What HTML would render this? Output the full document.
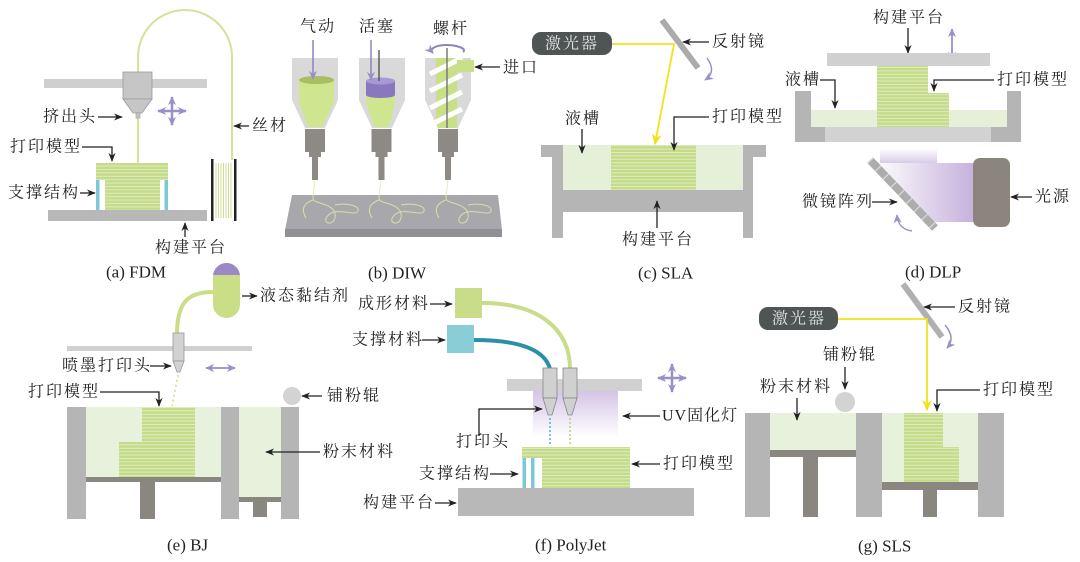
<!DOCTYPE html>
<html><head><meta charset="utf-8">
<style>
html,body{margin:0;padding:0;background:#fff;}
svg{display:block;}
.t{font-family:"Liberation Serif","Noto Serif CJK SC",serif;font-size:16px;letter-spacing:2px;fill:#222;dominant-baseline:central;}
.c{font-family:"Liberation Serif","Noto Serif CJK SC",serif;font-size:17px;fill:#222;dominant-baseline:central;}
.l{stroke:#222;stroke-width:1.3;fill:none;}
</style></head><body>
<svg width="1080" height="562" viewBox="0 0 1080 562" xmlns="http://www.w3.org/2000/svg">
<defs>
<marker id="ah" viewBox="0 0 10 10" refX="9" refY="5" markerWidth="9" markerHeight="9" orient="auto" markerUnits="userSpaceOnUse"><path d="M0,1 L10,5 L0,9 L3,5 z" fill="#222"/></marker>
<marker id="ap" viewBox="0 0 10 10" refX="9" refY="5" markerWidth="9" markerHeight="9" orient="auto" markerUnits="userSpaceOnUse"><path d="M0,0.5 L10,5 L0,9.5 L3,5 z" fill="#9a8fc8"/></marker>
<marker id="ay" viewBox="0 0 10 10" refX="9" refY="5" markerWidth="11" markerHeight="11" orient="auto" markerUnits="userSpaceOnUse"><path d="M0,0.5 L10,5 L0,9.5 L3,5 z" fill="#f2e21a"/></marker>
<pattern id="st" width="6" height="3.4" patternUnits="userSpaceOnUse"><rect width="6" height="3.4" fill="#c4db88"/><rect y="2.4" width="6" height="0.9" fill="#e3eec6"/></pattern>
<linearGradient id="uv" x1="0" y1="0" x2="0" y2="1"><stop offset="0" stop-color="#d4c4e6"/><stop offset="1" stop-color="#ffffff"/></linearGradient>
<linearGradient id="beam1" x1="0" y1="0" x2="0" y2="1"><stop offset="0" stop-color="#ffffff"/><stop offset="1" stop-color="#d9cbe8"/></linearGradient>
<linearGradient id="beam2" x1="0" y1="0" x2="1" y2="0"><stop offset="0" stop-color="#ffffff"/><stop offset="1" stop-color="#c6b2dc"/></linearGradient>
<clipPath id="s3"><polygon points="425,58 471,58 471,100 458,128 438,128 425,100"/></clipPath>
<clipPath id="cap"><rect x="213" y="263" width="27" height="55" rx="13.5"/></clipPath>
</defs>

<!-- ===== (a) FDM ===== -->
<path d="M138,72 L138,57 A47,47 0 0 1 232,57 L232,160" stroke="#d4e29a" stroke-width="2" fill="none"/>
<line x1="138" y1="116" x2="138" y2="164" stroke="#d4e29a" stroke-width="2"/>
<rect x="44" y="79" width="163" height="9" fill="#cfcfcf"/>
<rect x="123" y="72" width="29" height="27" fill="#c6c6c6" stroke="#9a9a9a" stroke-width="0.8"/>
<polygon points="123,99 152,99 142,113 133,113" fill="#c6c6c6" stroke="#9a9a9a" stroke-width="0.8"/>
<rect x="136" y="113" width="4" height="5" fill="#c6c6c6" stroke="#9a9a9a" stroke-width="0.6"/>
<g stroke="#9a8fc8" stroke-width="2.5"><line x1="162" y1="111" x2="182" y2="111"/><line x1="172" y1="101" x2="172" y2="121"/></g>
<line x1="172" y1="105" x2="172" y2="97" stroke="#9a8fc8" stroke-width="2.5" marker-end="url(#ap)"/>
<line x1="172" y1="117" x2="172" y2="125" stroke="#9a8fc8" stroke-width="2.5" marker-end="url(#ap)"/>
<line x1="166" y1="111" x2="158" y2="111" stroke="#9a8fc8" stroke-width="2.5" marker-end="url(#ap)"/>
<line x1="178" y1="111" x2="186" y2="111" stroke="#9a8fc8" stroke-width="2.5" marker-end="url(#ap)"/>
<rect x="96" y="163" width="72" height="17" fill="url(#st)"/>
<rect x="105" y="180" width="55" height="30" fill="url(#st)"/>
<rect x="96" y="180" width="3.5" height="30" fill="#7dc8d6"/>
<rect x="164.5" y="180" width="3.5" height="30" fill="#7dc8d6"/>
<rect x="48" y="210" width="159" height="11" fill="#b8b8b8"/>
<rect x="211" y="159" width="2.5" height="62" fill="#222"/>
<rect x="234" y="159" width="2.5" height="62" fill="#222"/>
<g stroke="#c9dc8a" stroke-width="0.9"><line x1="216" y1="163" x2="216" y2="218"/><line x1="218.5" y1="163" x2="218.5" y2="218"/><line x1="221" y1="163" x2="221" y2="218"/><line x1="223.5" y1="163" x2="223.5" y2="218"/><line x1="226" y1="163" x2="226" y2="218"/><line x1="228.5" y1="163" x2="228.5" y2="218"/><line x1="231" y1="163" x2="231" y2="218"/></g>
<text class="t" x="43" y="117">挤出头</text>
<line class="l" x1="98" y1="117" x2="122" y2="117" marker-end="url(#ah)"/>
<text class="t" x="10" y="147">打印模型</text>
<path class="l" d="M82,147 H112 V161" marker-end="url(#ah)"/>
<text class="t" x="8" y="193">支撑结构</text>
<line class="l" x1="80" y1="193" x2="95" y2="193" marker-end="url(#ah)"/>
<text class="t" x="252" y="126">丝材</text>
<line class="l" x1="249" y1="126" x2="234" y2="126" marker-end="url(#ah)"/>
<text class="t" x="155" y="248">构建平台</text>
<line class="l" x1="185" y1="237" x2="185" y2="223" marker-end="url(#ah)"/>
<text class="c" x="106" y="272">(a) FDM</text>

<!-- ===== (b) DIW ===== -->
<polygon points="292,195 498,195 502,230 285,230" fill="#a8a8ac"/>
<rect x="285" y="229" width="217" height="8" fill="#8f8f94"/>
<g stroke="#dfe9a6" stroke-width="1" fill="none" opacity="0.85">
<path d="M315,180 L313,197 C312,203 322,202 330,207 C338,212 336,222 330,223 C323,224 325,214 334,212 C345,210 356,216 358,211 C360,205 345,203 335,205 M313,200 C305,203 300,208 306,218"/>
<path d="M381,180 L379,197 C378,203 388,202 396,207 C404,212 402,222 396,223 C389,224 391,214 400,212 C411,210 422,216 424,211 C426,205 411,203 401,205 M379,200 C371,203 366,208 372,218"/>
<path d="M448,180 L446,197 C445,203 455,202 463,207 C471,212 469,222 463,223 C456,224 458,214 467,212 C478,210 489,216 491,211 C493,205 478,203 468,205 M446,200 C438,203 433,208 439,218"/>
</g>
<!-- syringe 1 -->
<polygon points="292,58 338,58 338,100 325,128 305,128 292,100" fill="#d9d9d9"/>
<polygon points="299,80 334,80 334,103 322,127 308,127 299,103" fill="#cfe58f"/>
<ellipse cx="316.5" cy="80" rx="17.5" ry="4" fill="#a9be62"/>
<line x1="313" y1="40" x2="313" y2="79" stroke="#8e82c0" stroke-width="1.5" marker-end="url(#ap)"/>
<!-- syringe 2 -->
<polygon points="359,58 405,58 405,100 392,128 372,128 359,100" fill="#d9d9d9"/>
<polygon points="366,92 395,92 395,103 389,127 374,127 366,103" fill="#cfe58f"/>
<rect x="366" y="81" width="29" height="14" fill="#8a78bd"/>
<ellipse cx="380.5" cy="95" rx="14.5" ry="3" fill="#8a78bd"/>
<ellipse cx="380.5" cy="81" rx="14.5" ry="3.5" fill="#a898d4"/>
<line x1="379" y1="50" x2="379" y2="81" stroke="#555" stroke-width="1.4"/>
<line x1="371" y1="40" x2="371" y2="80" stroke="#8e82c0" stroke-width="1.5" marker-end="url(#ap)"/>
<!-- syringe 3 -->
<polygon points="425,58 471,58 471,100 458,128 438,128 425,100" fill="#d9d9d9"/>
<g clip-path="url(#s3)">
<rect x="436" y="58" width="21" height="72" fill="#c9df88"/>
<g stroke="#ffffff" stroke-width="5"><line x1="430" y1="74" x2="462" y2="58"/><line x1="430" y1="91" x2="462" y2="75"/><line x1="430" y1="108" x2="462" y2="92"/><line x1="430" y1="125" x2="462" y2="109"/></g>
</g>
<rect x="457" y="60" width="17" height="12" fill="#c9df88"/>
<line x1="447" y1="48" x2="447" y2="128" stroke="#7a7a7a" stroke-width="1.5"/>
<path d="M463,52 C468,48 454,45 447,45 C438,45 428,48 433,53" stroke="#8e82c0" stroke-width="2" fill="none" marker-end="url(#ap)"/>
<!-- nozzles -->
<g fill="#8d8a85">
<rect x="305" y="129" width="20" height="23"/><rect x="309" y="152" width="12" height="5"/><rect x="312" y="157" width="6" height="23"/>
<rect x="371.5" y="129" width="20" height="23"/><rect x="375.5" y="152" width="12" height="5"/><rect x="378.5" y="157" width="6" height="23"/>
<rect x="438" y="129" width="20" height="23"/><rect x="442" y="152" width="12" height="5"/><rect x="445" y="157" width="6" height="23"/>
</g>
<text class="t" x="300" y="27">气动</text>
<text class="t" x="359" y="27">活塞</text>
<text class="t" x="433" y="29">螺杆</text>
<text class="t" x="503" y="68">进口</text>
<line class="l" x1="500" y1="67" x2="475" y2="67" marker-end="url(#ah)"/>
<text class="c" x="368" y="273">(b) DIW</text>

<!-- ===== (c) SLA ===== -->
<rect x="532" y="32" width="80" height="23" rx="9" fill="#4f5555"/>
<text class="t" x="545" y="44" style="fill:#e0e0e0">激光器</text>
<line x1="662" y1="20" x2="698" y2="68" stroke="#ababab" stroke-width="6"/>
<path d="M612,44 L674,44 L655,144" stroke="#f2e21a" stroke-width="1.8" fill="none" marker-end="url(#ay)"/>
<path d="M707,58 Q717,72 705,80" stroke="#9a8fc8" stroke-width="1.5" fill="none" marker-end="url(#ap)"/>
<text class="t" x="712" y="42">反射镜</text>
<line class="l" x1="709" y1="42" x2="683" y2="42" marker-end="url(#ah)"/>
<rect x="563" y="145" width="180" height="45" fill="#e6f0d9"/>
<rect x="611" y="145" width="85" height="45" fill="url(#st)"/>
<g fill="#b5b5b5"><rect x="541" y="145" width="22" height="12"/><rect x="552" y="145" width="11" height="93"/><rect x="743" y="145" width="23" height="12"/><rect x="743" y="145" width="10" height="93"/><rect x="552" y="190" width="201" height="22"/></g>
<text class="t" x="565" y="119">液槽</text>
<line class="l" x1="582" y1="129" x2="582" y2="153" marker-end="url(#ah)"/>
<text class="t" x="712" y="117">打印模型</text>
<path class="l" d="M709,117 H674 V150" marker-end="url(#ah)"/>
<text class="t" x="622" y="240">构建平台</text>
<line class="l" x1="657" y1="228" x2="657" y2="201" marker-end="url(#ah)"/>
<text class="c" x="638" y="273">(c) SLA</text>

<!-- ===== (d) DLP ===== -->
<text class="t" x="873" y="18">构建平台</text>
<line class="l" x1="908" y1="28" x2="908" y2="53" marker-end="url(#ah)"/>
<line x1="952" y1="36" x2="952" y2="29" stroke="#9a8fc8" stroke-width="1.8" marker-end="url(#ap)"/>
<line x1="952" y1="52" x2="952" y2="60" stroke="#9a8fc8" stroke-width="1.8" marker-end="url(#ap)"/>
<line x1="952" y1="34" x2="952" y2="54" stroke="#9a8fc8" stroke-width="1.8"/>
<rect x="827" y="53" width="163" height="13" fill="#d0d0d0"/>
<rect x="811" y="110" width="196" height="17" fill="#e6f0d9"/>
<rect x="877" y="66" width="51" height="61" fill="url(#st)"/>
<rect x="877" y="93" width="72" height="34" fill="url(#st)"/>
<rect x="795" y="91" width="16" height="51" fill="#b5b5b5"/>
<rect x="1007" y="91" width="14" height="51" fill="#b5b5b5"/>
<rect x="795" y="127" width="226" height="15" fill="#b5b5b5"/>
<rect x="825" y="127" width="166" height="15" fill="#d2d2d2"/>
<rect x="880" y="148" width="57" height="15" fill="url(#beam1)"/>
<polygon points="873,163 973,163 973,222 929,222" fill="url(#beam2)"/>
<line x1="870" y1="160" x2="935" y2="228" stroke="#adadad" stroke-width="8"/>
<line x1="870" y1="160" x2="935" y2="228" stroke="#dcdcdc" stroke-width="8" stroke-dasharray="1.2 10"/>
<rect x="973" y="158" width="37" height="69" rx="7" fill="#8c857d"/>
<path d="M912,231 Q898,229 897,215" stroke="#9a8fc8" stroke-width="1.4" fill="none" marker-end="url(#ap)"/>
<text class="t" x="785" y="80">液槽</text>
<path class="l" d="M820,80 H835 V108" marker-end="url(#ah)"/>
<text class="t" x="997" y="80">打印模型</text>
<path class="l" d="M994,80 H934 V91" marker-end="url(#ah)"/>
<text class="t" x="1035" y="197">光源</text>
<line class="l" x1="1032" y1="197" x2="1011" y2="197" marker-end="url(#ah)"/>
<text class="t" x="802" y="202">微镜阵列</text>
<line class="l" x1="872" y1="202" x2="897" y2="202" marker-end="url(#ah)"/>
<text class="c" x="905" y="272">(d) DLP</text>

<!-- ===== (e) BJ ===== -->
<path d="M213,292 C190,292 177,300 177,334" stroke="#c9de86" stroke-width="4" fill="none"/>
<g clip-path="url(#cap)"><rect x="213" y="263" width="27" height="55" fill="#c9de86"/><rect x="213" y="263" width="27" height="12" fill="#9b88c6"/></g>
<rect x="67" y="346" width="185" height="5" fill="#d0d0d0"/>
<rect x="173" y="333" width="11" height="28" fill="#d2d2d2" stroke="#999" stroke-width="0.8"/>
<polygon points="173,361 184,361 180,372 177,372" fill="#d2d2d2" stroke="#999" stroke-width="0.8"/>
<line x1="178" y1="375" x2="172" y2="406" stroke="#c9de86" stroke-width="1.6" stroke-dasharray="2 3"/>
<line x1="213" y1="368" x2="206" y2="368" stroke="#9a8fc8" stroke-width="1.8" marker-end="url(#ap)"/>
<line x1="227" y1="368" x2="235" y2="368" stroke="#9a8fc8" stroke-width="1.8" marker-end="url(#ap)"/>
<line x1="210" y1="368" x2="230" y2="368" stroke="#9a8fc8" stroke-width="1.8"/>
<rect x="86" y="407" width="135" height="70" fill="#e7f1dc"/>
<rect x="142" y="407" width="53" height="70" fill="url(#st)"/>
<rect x="119" y="442" width="76" height="35" fill="url(#st)"/>
<rect x="86" y="477" width="135" height="5" fill="#8a8680"/>
<rect x="140" y="482" width="15" height="37" fill="#8a8680"/>
<rect x="239" y="407" width="42" height="90" fill="#e7f1dc"/>
<rect x="239" y="497" width="42" height="5" fill="#8a8680"/>
<rect x="253" y="502" width="14" height="15" fill="#8a8680"/>
<g fill="#b5b5b5"><rect x="67" y="407" width="19" height="112"/><rect x="221" y="407" width="18" height="112"/><rect x="281" y="407" width="18" height="112"/></g>
<circle cx="292" cy="396" r="9" fill="#d3d3d3"/>
<text class="t" x="260" y="296">液态黏结剂</text>
<line class="l" x1="242" y1="296" x2="257" y2="296" marker-end="url(#ah)"/>
<text class="t" x="62" y="366">喷墨打印头</text>
<line class="l" x1="150" y1="366" x2="171" y2="366" marker-end="url(#ah)"/>
<text class="t" x="28" y="392">打印模型</text>
<path class="l" d="M100,392 H159 V406" marker-end="url(#ah)"/>
<text class="t" x="327" y="396">铺粉辊</text>
<line class="l" x1="322" y1="396" x2="302" y2="396" marker-end="url(#ah)"/>
<text class="t" x="323" y="452">粉末材料</text>
<line class="l" x1="320" y1="452" x2="266" y2="452" marker-end="url(#ah)"/>
<text class="c" x="167" y="545">(e) BJ</text>

<!-- ===== (f) PolyJet ===== -->
<path d="M482,303 C540,303 570,330 570,369" stroke="#c8dc8a" stroke-width="4" fill="none"/>
<path d="M474,340 C520,340 545,350 550,369" stroke="#2a8fa8" stroke-width="4" fill="none"/>
<rect x="455" y="288" width="27" height="30" fill="#c8dc8a"/>
<rect x="447" y="325" width="27" height="28" fill="#8bcdd6"/>
<rect x="507" y="379" width="135" height="12" fill="#d0d0d0"/>
<rect x="533" y="391" width="85" height="46" fill="url(#uv)"/>
<g fill="#d0d0d0" stroke="#888" stroke-width="0.8">
<rect x="543" y="368" width="14" height="30"/><polygon points="543,398 557,398 552,415 548,415"/>
<rect x="563" y="368" width="14" height="30"/><polygon points="563,398 577,398 572,415 568,415"/>
</g>
<line x1="550" y1="418" x2="550" y2="446" stroke="#5ab7cc" stroke-width="1.6" stroke-dasharray="2 2"/>
<line x1="570" y1="418" x2="570" y2="446" stroke="#bcd47a" stroke-width="1.6" stroke-dasharray="2 2"/>
<line x1="665" y1="378" x2="658" y2="378" stroke="#9a8fc8" stroke-width="2.5" marker-end="url(#ap)"/>
<line x1="679" y1="378" x2="686" y2="378" stroke="#9a8fc8" stroke-width="2.5" marker-end="url(#ap)"/>
<line x1="672" y1="371" x2="672" y2="364" stroke="#9a8fc8" stroke-width="2.5" marker-end="url(#ap)"/>
<line x1="672" y1="385" x2="672" y2="392" stroke="#9a8fc8" stroke-width="2.5" marker-end="url(#ap)"/>
<line x1="662" y1="378" x2="682" y2="378" stroke="#9a8fc8" stroke-width="2.5"/>
<line x1="672" y1="368" x2="672" y2="388" stroke="#9a8fc8" stroke-width="2.5"/>
<rect x="522" y="447" width="108" height="11" fill="url(#st)"/>
<rect x="542" y="458" width="88" height="30" fill="url(#st)"/>
<rect x="522.5" y="458" width="3.5" height="30" fill="#7dc8d6"/>
<rect x="531" y="458" width="3.5" height="30" fill="#7dc8d6"/>
<rect x="458" y="488" width="236" height="28" fill="#b8b8b8"/>
<text class="t" x="358" y="304">成形材料</text>
<line class="l" x1="430" y1="304" x2="452" y2="304" marker-end="url(#ah)"/>
<text class="t" x="352" y="340">支撑材料</text>
<line class="l" x1="422" y1="340" x2="445" y2="340" marker-end="url(#ah)"/>
<text class="t" x="662" y="416" style="letter-spacing:1px">UV固化灯</text>
<line class="l" x1="660" y1="416" x2="623" y2="416" marker-end="url(#ah)"/>
<text class="t" x="456" y="442">打印头</text>
<path class="l" d="M479,436 V409 H542" marker-end="url(#ah)"/>
<text class="t" x="419" y="474">支撑结构</text>
<line class="l" x1="490" y1="474" x2="518" y2="474" marker-end="url(#ah)"/>
<text class="t" x="663" y="464">打印模型</text>
<line class="l" x1="660" y1="464" x2="632" y2="464" marker-end="url(#ah)"/>
<text class="t" x="363" y="503">构建平台</text>
<line class="l" x1="435" y1="503" x2="456" y2="503" marker-end="url(#ah)"/>
<text class="c" x="535" y="545">(f) PolyJet</text>

<!-- ===== (g) SLS ===== -->
<rect x="759" y="307" width="79" height="23" rx="9" fill="#4f5555"/>
<text class="t" x="772" y="319" style="fill:#e0e0e0">激光器</text>
<line x1="903" y1="284" x2="942" y2="337" stroke="#b0b0b0" stroke-width="6"/>
<path d="M838,319 H927 V410" stroke="#f2e21a" stroke-width="1.8" fill="none" marker-end="url(#ay)"/>
<path d="M945,325 Q956,338 947,348" stroke="#9a8fc8" stroke-width="1.5" fill="none" marker-end="url(#ap)"/>
<text class="t" x="958" y="307">反射镜</text>
<line class="l" x1="955" y1="307" x2="924" y2="307" marker-end="url(#ah)"/>
<rect x="770" y="413" width="86" height="37" fill="#e7f1dc"/>
<rect x="770" y="450" width="86" height="7" fill="#8a8680"/>
<rect x="803" y="457" width="15" height="60" fill="#8a8680"/>
<rect x="882" y="413" width="96" height="69" fill="#e7f1dc"/>
<rect x="904" y="413" width="39" height="69" fill="url(#st)"/>
<rect x="904" y="447" width="55" height="35" fill="url(#st)"/>
<rect x="882" y="482" width="96" height="8" fill="#8a8680"/>
<rect x="923" y="490" width="14" height="27" fill="#8a8680"/>
<g fill="#b5b5b5"><rect x="745" y="413" width="25" height="104"/><rect x="856" y="413" width="26" height="104"/><rect x="978" y="413" width="26" height="104"/></g>
<circle cx="845" cy="402" r="10" fill="#d3d3d3"/>
<text class="t" x="823" y="355">铺粉辊</text>
<line class="l" x1="845" y1="367" x2="845" y2="389" marker-end="url(#ah)"/>
<text class="t" x="760" y="387">粉末材料</text>
<line class="l" x1="797" y1="398" x2="797" y2="420" marker-end="url(#ah)"/>
<text class="t" x="983" y="390">打印模型</text>
<path class="l" d="M980,390 H937 V411" marker-end="url(#ah)"/>
<text class="c" x="858" y="546">(g) SLS</text>
</svg>
</body></html>
